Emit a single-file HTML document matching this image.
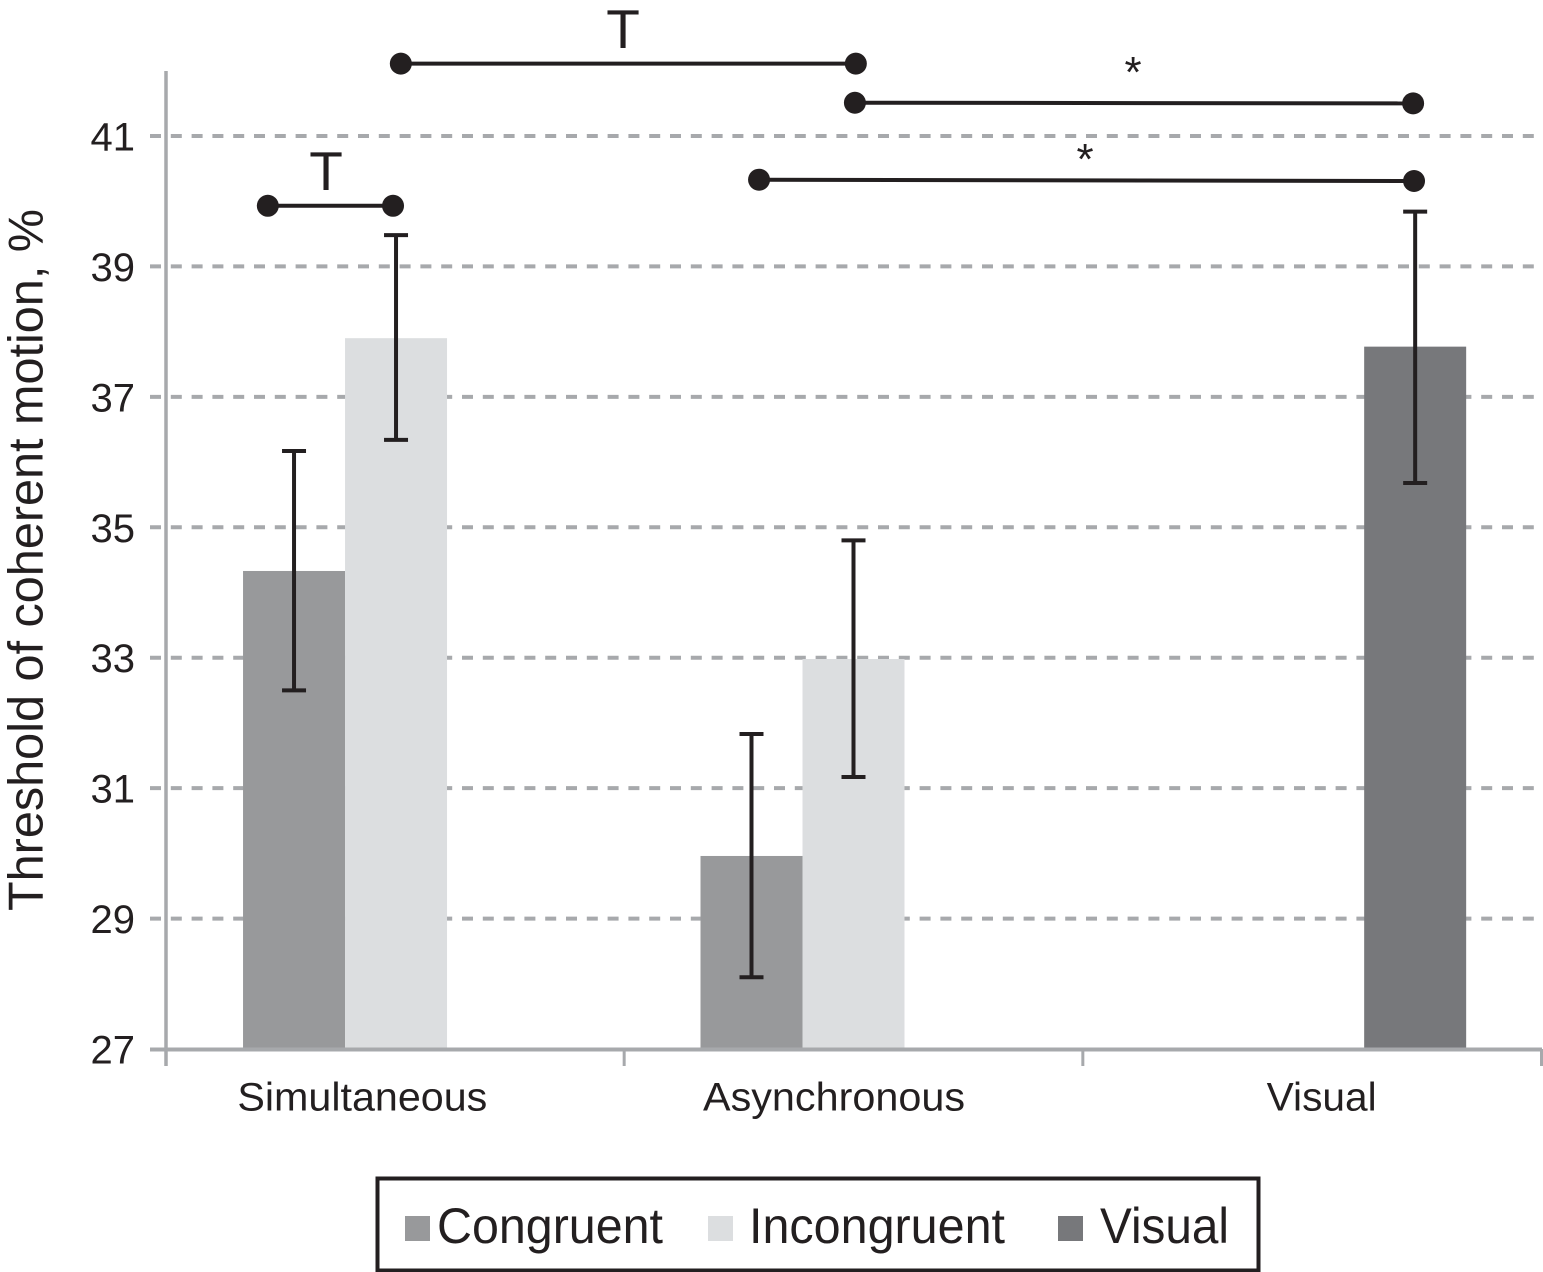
<!DOCTYPE html>
<html lang="en">
<head>
<meta charset="utf-8">
<title>Threshold of coherent motion</title>
<style>
  html, body { margin: 0; padding: 0; background: #ffffff; }
  #chart { display: block; width: 1543px; height: 1272px; }
  text { font-family: "Liberation Sans", Arial, sans-serif; fill: #231f20; }
</style>
</head>
<body>
<svg id="chart" xmlns="http://www.w3.org/2000/svg" width="1543" height="1272" viewBox="0 0 1543 1272">
  <g id="grid"></g>
  <g id="bars"></g>
  <g id="axes"></g>
  <g id="errors"></g>
  <g id="sig"></g>
  <text transform="translate(42.5,560) rotate(-90)" text-anchor="middle" font-size="49" textLength="702" lengthAdjust="spacingAndGlyphs">Threshold of coherent motion, %</text>
  <g>
    <rect x="377.5" y="1178.5" width="881" height="92" fill="#ffffff" stroke="#231f20" stroke-width="4"></rect>
    <rect x="405" y="1216" width="25" height="25" fill="#98999b"></rect>
    <text x="437" y="1243" font-size="50" textLength="226" lengthAdjust="spacingAndGlyphs">Congruent</text>
    <rect x="708" y="1216" width="25" height="25" fill="#dcdee0"></rect>
    <text x="749" y="1243" font-size="50" textLength="256" lengthAdjust="spacingAndGlyphs">Incongruent</text>
    <rect x="1058" y="1216" width="25" height="25" fill="#77787b"></rect>
    <text x="1100" y="1243" font-size="50" textLength="129" lengthAdjust="spacingAndGlyphs">Visual</text>
  </g>
</svg>
<script>
// Chart data
const categories = ["Simultaneous", "Asynchronous", "Visual"];
const seriesNames = ["Congruent", "Incongruent", "Visual"];
const congruentValues = [34.33, 29.96, null];
const incongruentValues = [37.9, 32.98, null];
const visualValues = [null, null, 37.77];
const congruentErrLow = [32.5, 28.1, null];
const congruentErrHigh = [36.17, 31.83, null];
const incongruentErrLow = [36.34, 31.17, null];
const incongruentErrHigh = [39.48, 34.8, null];
const visualErrLow = [null, null, 35.68];
const visualErrHigh = [null, null, 39.84];
const yTicks = [27, 29, 31, 33, 35, 37, 39, 41];
// Significance brackets: start/end in category units, level in axis units
const bracketStart = [0.222, 0.512, 1.502, 1.293];
const bracketEnd = [0.495, 1.504, 2.719, 2.721];
const bracketStartLevel = [39.93, 42.11, 41.51, 40.33];
const bracketEndLevel = [39.93, 42.11, 41.5, 40.31];
const bracketLabels = ["T", "T", "*", "*"];

// Axis functions
const yMin = 27, yMax = 41, yZero = 1049, yTop = 136;
const xLeft = 166, xRight = 1542;
const bandWidth = (xRight - xLeft) / categories.length;
const slotWidth = 102;
const bandNudge = [0.7, -0.5, 0.5];
function yScale(v) { return yZero - (v - yMin) * (yZero - yTop) / (yMax - yMin); }
function bandX(c) { return xLeft + c * bandWidth; }
function slotX(catIndex, seriesIndex) {
  const center = bandX(catIndex) + bandWidth / 2;
  return center - 1.5 * slotWidth + seriesIndex * slotWidth + bandNudge[catIndex];
}

const NS = "http://www.w3.org/2000/svg";
function make(tag, parentId, attrs) {
  const el = document.createElementNS(NS, tag);
  for (const k in attrs) el.setAttribute(k, attrs[k]);
  document.getElementById(parentId).appendChild(el);
  return el;
}

// Gridlines and y tick labels
yTicks.forEach(function (t) {
  const y = yScale(t);
  if (t !== yMin) {
    const g = make("line", "grid", { x1: 150, x2: 1542, y1: y, y2: y, stroke: "#a7a9ac", "stroke-width": 4, "stroke-dasharray": "11 9.8" });
    
    
  }
  const lab = make("text", "axes", { x: 135, y: y + 14.5, "text-anchor": "end", "font-size": 40 });
  lab.textContent = String(t);
  
  
});

// Bars and error bars
const allValues = [congruentValues, incongruentValues, visualValues];
const allLow = [congruentErrLow, incongruentErrLow, visualErrLow];
const allHigh = [congruentErrHigh, incongruentErrHigh, visualErrHigh];
const barColors = ["#98999b", "#dcdee0", "#77787b"];
allValues.forEach(function (vals, s) {
  vals.forEach(function (v, c) {
    if (v === null) return;
    const x = slotX(c, s);
    const bar = make("rect", "bars", { x: x, y: yScale(v), width: slotWidth, height: yZero - yScale(v), fill: barColors[s] });
    
    
    const cx = x + slotWidth / 2;
    const yLo = yScale(allLow[s][c]);
    const yHi = yScale(allHigh[s][c]);
    const d = "M" + cx + " " + yLo + "V" + yHi + "M" + (cx - 12) + " " + yHi + "H" + (cx + 12) + "M" + (cx - 12) + " " + yLo + "H" + (cx + 12);
    const err = make("path", "errors", { d: d, fill: "none", stroke: "#231f20", "stroke-width": 4 });
    
    
  });
});

// Axes
const yAxis = make("line", "axes", { x1: xLeft, x2: xLeft, y1: 71, y2: yZero + 17, stroke: "#a7a9ac", "stroke-width": 3.5 });


const xAxis = make("line", "axes", { x1: 150, x2: xRight, y1: yZero + 0.5, y2: yZero + 0.5, stroke: "#a7a9ac", "stroke-width": 4 });


for (let i = 1; i <= categories.length; i++) {
  const tick = make("line", "axes", { x1: bandX(i) - 0.5, x2: bandX(i) - 0.5, y1: yZero, y2: yZero + 17, stroke: "#a7a9ac", "stroke-width": 3 });
  
  
}
const catLabelOffset = [-33, -20, 9];
const catLabelLength = [250, 262, 110];
categories.forEach(function (name, c) {
  const lab = make("text", "axes", { x: bandX(c) + bandWidth / 2 + catLabelOffset[c], y: 1110.5, "text-anchor": "middle", "font-size": 40, textLength: catLabelLength[c], lengthAdjust: "spacingAndGlyphs" });
  lab.textContent = name;
  
  
});

// Significance brackets
const labelX = [326, 623, 1133, 1085];
const labelY = [190, 48, 87, 174];
const labelSize = [55, 55, 44, 44];
bracketStart.forEach(function (b, i) {
  const x1 = bandX(b), x2 = bandX(bracketEnd[i]);
  const y1 = yScale(bracketStartLevel[i]), y2 = yScale(bracketEndLevel[i]);
  const line = make("line", "sig", { x1: x1, x2: x2, y1: y1, y2: y2, stroke: "#231f20", "stroke-width": 4 });
  
  
  const c1 = make("circle", "sig", { cx: x1, cy: y1, r: 11, fill: "#231f20" });
  
  
  const c2 = make("circle", "sig", { cx: x2, cy: y2, r: 11, fill: "#231f20" });
  
  
  const t = make("text", "sig", { x: labelX[i], y: labelY[i], "text-anchor": "middle", "font-size": labelSize[i] });
  t.textContent = bracketLabels[i];
  
  
});
</script>
</body>
</html>
